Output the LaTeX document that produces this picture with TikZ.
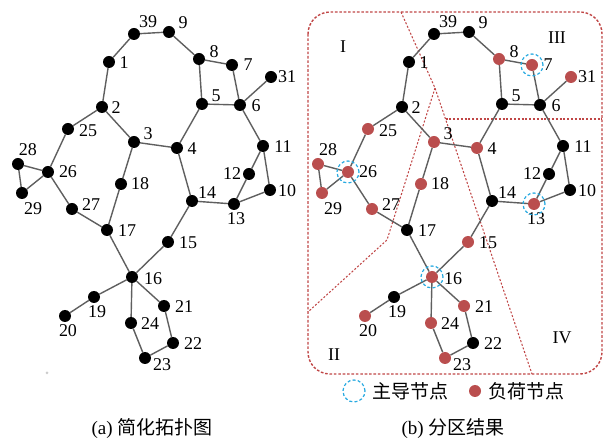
\documentclass[tikz,border=0pt]{standalone}
\usepackage{fontspec}
\setmainfont{Liberation Serif}
\newfontfamily\cjk{Noto Sans CJK SC}
\usetikzlibrary{calc}
\definecolor{loadred}{RGB}{186,78,78}
\definecolor{leadcyan}{RGB}{40,170,225}
\definecolor{partred}{RGB}{192,70,70}
\definecolor{edgegray}{RGB}{95,95,95}
\pgfdeclarelayer{bg}
\pgfsetlayers{bg,main}
\begin{document}
\begin{tikzpicture}[x=1pt,y=-1pt,
  dot/.style={circle,inner sep=0pt,minimum size=12pt},
  edge/.style={draw=edgegray,line width=1.4pt},
  lab/.style={font=\fontsize{18}{18}\selectfont,inner sep=0pt},
  roman/.style={font=\fontsize{18}{18}\selectfont,inner sep=0pt},
  lead/.style={circle,draw=leadcyan,line width=1.2pt,dash pattern=on 3pt off 2.2pt,inner sep=0pt,minimum size=22pt},
  border/.style={draw=partred,line width=1.4pt,dash pattern=on 2.6pt off 1.8pt},
  part/.style={draw=partred,line width=1.05pt,dash pattern=on 2pt off 1.8pt},
  big/.style={font=\fontsize{19}{19}\selectfont,inner sep=0pt}]
\useasboundingbox (0,0) rectangle (606,438);

\foreach \n/\x/\y/\dx/\dy/\c in {
  39/134/34/14/-12/black, 9/169/32/14/-9/black, 1/109/62/15/1/black,
  8/199/59/15/-7/loadred, 7/232/65/16/0/loadred, 31/271/77/16/0/loadred,
  5/202/104/14/-8/black, 6/240/105/16/1/black, 2/102/107/14/1/black,
  25/68/129/20/2/loadred, 3/134/142/14/-8/loadred, 4/177/148/15/1/loadred,
  11/263/146/20/1/black, 28/18/164/10/-14/loadred, 26/48/172/20/0/loadred,
  12/249/174/-17/0/black, 18/121/184/19/0/loadred, 10/270/190/17/1/black,
  29/22/193/11/16/loadred, 27/72/209/19/-4/loadred, 14/192/201/15/-8/black,
  13/234/204/2/15/loadred, 17/107/230/20/1/black, 15/168/242/20/1/loadred,
  16/132/277/21/2/loadred, 19/94/297/3/15/black, 21/164/306/20/1/loadred,
  20/65/316/3/15/loadred, 24/131/323/19/1/loadred, 22/173/343/20/1/black,
  23/145/358/17/7/loadred}{
  \node[dot,fill=black] (L\n) at (\x,\y) {};
  \node[dot,fill=\c] (R\n) at (\x+300,\y) {};
  \node[lab] at ($(L\n)+(\dx,\dy)$) {\n};
  \node[lab] at ($(R\n)+(\dx,\dy)$) {\n};
}

\begin{pgfonlayer}{bg}
  \draw[border,rounded corners=22pt] (308,12) rectangle (602,374);
  \coordinate (pa) at (401,12);
  \coordinate (pb) at (435,88);
  \coordinate (pc) at (532,374);
  \coordinate (pd) at (387,240);
  \coordinate (pe) at (308,312);
  \coordinate (pf) at (445.5,119);
  \coordinate (pg) at (602,119);
  \draw[part] (pa) -- (pb) -- (pc);
  \draw[part] (pb) -- (pd) -- (pe);
  \draw[part] (pf) -- (pg);
  \foreach \a/\b in {39/9, 39/1, 9/8, 8/7, 8/5, 7/6, 5/6, 6/31, 6/11, 1/2,
    2/25, 2/3, 3/4, 4/5, 3/18, 4/14, 25/26, 26/28, 26/29, 28/29, 26/27,
    27/17, 18/17, 17/16, 14/15, 15/16, 14/13, 11/12, 11/10, 12/13, 13/10,
    16/19, 19/20, 16/21, 16/24, 21/22, 24/23, 23/22}{
    \draw[edge] (L\a) -- (L\b);
    \draw[edge] (R\a) -- (R\b);
  }
\end{pgfonlayer}

\foreach \n in {7,26,13,16}{\node[lead] (lead\n) at (R\n) {};}

\node[roman] (rI) at (343,47) {I};
\node[roman] (rIII) at (557,38) {III};
\node[roman] (rII) at (334,355) {II};
\node[roman] (rIV) at (562,338) {IV};

\node[circle,fill=black!20,inner sep=0pt,minimum size=3pt] (speck) at (47,373) {};

\node[lead] (legc) at (354,391) {};
\node[big,anchor=west] (legt1) at (372,391) {\cjk 主导节点};
\node[dot,fill=loadred] (legd) at (475,391) {};
\node[big,anchor=west] (legt2) at (488,391) {\cjk 负荷节点};

\node[big] (capa) at (152,429) {(a) {\cjk 简化拓扑图}};
\node[big] (capb) at (453,429) {(b) {\cjk 分区结果}};
\end{tikzpicture}
\end{document}
